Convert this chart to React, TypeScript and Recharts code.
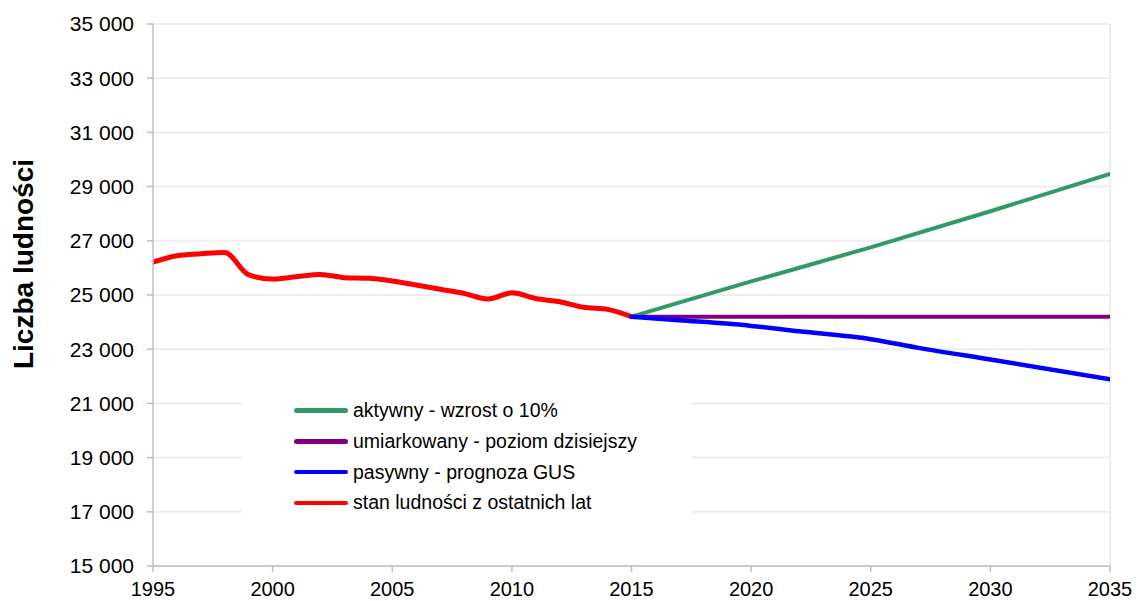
import React from 'react';
import { LineChart, Line, XAxis, YAxis, CartesianGrid, Legend, ReferenceLine } from 'recharts';

const historyYears = [1995, 1996, 1997, 1998, 1999, 2000, 2001, 2002, 2003, 2004, 2005, 2006, 2007, 2008, 2009, 2010, 2011, 2012, 2013, 2014, 2015];
const historyValues = [26215, 26450, 26520, 26570, 25740, 25590, 25675, 25760, 25640, 25615, 25515, 25370, 25210, 25060, 24855, 25080, 24870, 24750, 24545, 24470, 24200];

const activeYears = [2015, 2020, 2025, 2030, 2035];
const activeValues = [24200, 25500, 26760, 28090, 29470];

const moderateYears = [2015, 2035];
const moderateValues = [24200, 24200];

const passiveYears = [2015, 2017, 2020, 2022, 2025, 2027, 2030, 2035];
const passiveValues = [24200, 24070, 23860, 23660, 23370, 23050, 22620, 21890];

const xTicks = [1995, 2000, 2005, 2010, 2015, 2020, 2025, 2030, 2035];
const yTicks = [15000, 17000, 19000, 21000, 23000, 25000, 27000, 29000, 31000, 33000, 35000];

const seriesNames = {
  active: 'aktywny - wzrost o 10%',
  moderate: 'umiarkowany - poziom dzisiejszy',
  passive: 'pasywny - prognoza GUS',
  history: 'stan ludności z ostatnich lat',
};
const seriesColors = {
  active: '#339966',
  moderate: '#800080',
  passive: '#0000ff',
  history: '#ff0000',
};

const toRows = (years: number[], values: number[]) => years.map((year, i) => ({ year, value: values[i] }));

const historyData = toRows(historyYears, historyValues);
const activeData = toRows(activeYears, activeValues);
const moderateData = toRows(moderateYears, moderateValues);
const passiveData = toRows(passiveYears, passiveValues);

const legendOrder: (keyof typeof seriesNames)[] = ['active', 'moderate', 'passive', 'history'];

const fmt = (v: number) => String(v).replace(/\B(?=(\d{3})+(?!\d))/g, ' ');

const FONT = '"Liberation Sans", Arial, sans-serif';

const LegendBox = () => (
  <div style={{ width: '100%', height: '100%', background: '#fff', position: 'relative', fontFamily: FONT }}>
    {legendOrder.map((k, i) => (
      <div
        key={k}
        style={{
          position: 'absolute',
          left: 52,
          top: 15.7 + i * 30.7 - 12,
          height: 24,
          display: 'flex',
          alignItems: 'center',
          whiteSpace: 'nowrap',
        }}
      >
        <span style={{ display: 'inline-block', width: 54, height: 4.5, background: seriesColors[k], borderRadius: 3 }} />
        <span style={{ marginLeft: 5, fontSize: 19.5, color: '#000' }}>{seriesNames[k]}</span>
      </div>
    ))}
  </div>
);

export default function App() {
  return (
    <div style={{ position: 'absolute', left: 0, top: 0, width: 1137, height: 601, background: '#fff', fontFamily: FONT }}>
      <LineChart width={1137} height={601} margin={{ top: 24, right: 27, bottom: 0, left: 0 }}>
        <CartesianGrid vertical={false} stroke="#eeeeee" strokeWidth={2} />
        <ReferenceLine x={2035} stroke="#eeeeee" strokeWidth={2} />
        <XAxis
          dataKey="year"
          type="number"
          domain={[1995, 2035]}
          ticks={xTicks}
          allowDataOverflow
          height={35}
          tickSize={6}
          tickMargin={10}
          axisLine={{ stroke: '#bfbfbf', strokeWidth: 1.5 }}
          tickLine={{ stroke: '#bfbfbf', strokeWidth: 1.5 }}
          tick={{ fill: '#000', fontSize: 20, fontFamily: FONT }}
        />
        <YAxis
          type="number"
          domain={[15000, 35000]}
          ticks={yTicks}
          width={153}
          tickSize={6}
          tickMargin={13}
          tickFormatter={fmt}
          axisLine={{ stroke: '#bfbfbf', strokeWidth: 1.5 }}
          tickLine={{ stroke: '#bfbfbf', strokeWidth: 1.5 }}
          tick={{ fill: '#000', fontSize: 21, fontFamily: FONT }}
          label={{
            content: () => (
              <text
                x={33}
                y={264}
                transform="rotate(-90 33 264)"
                textAnchor="middle"
                fontSize={28}
                fontWeight="bold"
                fontFamily={FONT}
                fill="#000"
              >
                Liczba ludności
              </text>
            ),
          }}
        />
        <Legend
          layout="vertical"
          align="center"
          verticalAlign="middle"
          wrapperStyle={{ left: 242, top: 395, width: 450, height: 122 }}
          content={() => <LegendBox />}
        />
        <Line data={historyData} dataKey="value" name={seriesNames.history} type="monotone" stroke={seriesColors.history} strokeWidth={5} dot={false} isAnimationActive={false} strokeLinecap="round" />
        <Line data={activeData} dataKey="value" name={seriesNames.active} type="monotone" stroke={seriesColors.active} strokeWidth={4} dot={false} isAnimationActive={false} strokeLinecap="round" />
        <Line data={moderateData} dataKey="value" name={seriesNames.moderate} type="monotone" stroke={seriesColors.moderate} strokeWidth={4} dot={false} isAnimationActive={false} strokeLinecap="round" />
        <Line data={passiveData} dataKey="value" name={seriesNames.passive} type="monotone" stroke={seriesColors.passive} strokeWidth={4.5} dot={false} isAnimationActive={false} strokeLinecap="round" />
      </LineChart>
    </div>
  );
}
